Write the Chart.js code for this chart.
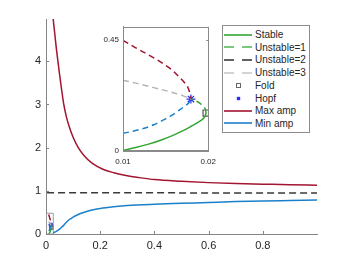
<!DOCTYPE html>
<html>
<head>
<meta charset="utf-8">
<script src="https://cdn.jsdelivr.net/npm/chart.js@4.4.0/dist/chart.umd.min.js"></script>
<style>
  html, body { margin: 0; padding: 0; background: #fff; }
  #wrap { position: relative; width: 350px; height: 263px; font-family: "Liberation Sans", Arial, sans-serif; }
  #main { position: absolute; left: 0; top: 0; }
  #inset { position: absolute; left: 90px; top: 18px; }
  #legend { position: absolute; left: 222px; top: 25px; width: 88px; height: 108px; box-sizing: border-box;
            border: 1px solid #8c8c8c; background: #fff; padding-top: 2px; }
  .row { display: flex; align-items: center; height: 13px; margin-bottom: -0.3px; font-size: 10px; color: #262626; white-space: nowrap; }
  .smp { width: 28px; height: 6px; margin-left: 1px; margin-right: 3px; display: flex; align-items: center; justify-content: center; }
  .ln { width: 28px; height: 2px; opacity: 0.8; }
</style>
</head>
<body>
<div id="wrap">
  <canvas id="main" width="350" height="263"></canvas>
  <canvas id="inset" width="132" height="152"></canvas>
  <div id="legend"></div>
</div>
<script>
// main view: amplitude envelopes against the parameter
const maxAmpX = [0.025, 0.027, 0.031, 0.036, 0.04, 0.044, 0.05, 0.056, 0.0656, 0.075, 0.085, 0.1, 0.119, 0.14, 0.17, 0.21, 0.25, 0.3, 0.35, 0.4, 0.5, 0.6, 0.7, 0.8, 0.9, 1.0]
const maxAmpY = [5.1, 4.95, 4.72, 4.42, 4.2, 4.0, 3.7, 3.42, 3.0, 2.72, 2.5, 2.24, 2.0, 1.82, 1.64, 1.5, 1.42, 1.35, 1.3, 1.26, 1.22, 1.19, 1.17, 1.155, 1.14, 1.13]
const minAmpX = [0.026, 0.035, 0.045, 0.055, 0.065, 0.075, 0.085, 0.1, 0.115, 0.13, 0.15, 0.175, 0.2, 0.25, 0.3, 0.4, 0.5, 0.6, 0.7, 0.8, 0.9, 1.0]
const minAmpY = [0.03, 0.05, 0.09, 0.14, 0.2, 0.27, 0.33, 0.39, 0.44, 0.48, 0.52, 0.56, 0.59, 0.63, 0.66, 0.69, 0.71, 0.73, 0.75, 0.765, 0.775, 0.785]
const unst2X = [0.004, 1.0]
const unst2Y = [0.955, 0.95]

// zoomed region near the fold / hopf points
const stableX = [0.01, 0.0115, 0.013, 0.0145, 0.016, 0.017, 0.018, 0.0188, 0.0194, 0.01965, 0.01975]
const stableY = [0.0, 0.012, 0.026, 0.043, 0.064, 0.08, 0.099, 0.115, 0.13, 0.142, 0.153]
const unst1X = [0.01975, 0.0197, 0.0195, 0.0192, 0.0188, 0.01797]
const unst1Y = [0.153, 0.165, 0.177, 0.188, 0.198, 0.21]
const redDashX = [0.01, 0.0112, 0.0124, 0.0136, 0.0147, 0.0157, 0.0166, 0.0172, 0.01758, 0.0178, 0.01797]
const redDashY = [0.45, 0.425, 0.402, 0.378, 0.355, 0.33, 0.3, 0.278, 0.26, 0.24, 0.21]
const unst3X = [0.01, 0.0115, 0.013, 0.0145, 0.016, 0.017, 0.01797]
const unst3Y = [0.287, 0.275, 0.262, 0.249, 0.235, 0.224, 0.21]
const blueDashX = [0.01, 0.0112, 0.0124, 0.0136, 0.0147, 0.0157, 0.0166, 0.0172, 0.0178, 0.01797]
const blueDashY = [0.07, 0.079, 0.09, 0.105, 0.124, 0.143, 0.165, 0.18, 0.198, 0.21]
const hopfX = [0.01797]
const hopfY = [0.21]
const foldX = [0.01975]
const foldY = [0.153]
const boxX = [0.002, 0.027, 0.027, 0.002, 0.002]
const boxY = [0, 0, 0.48, 0.48, 0]

const mainXTicks = [0, 0.2, 0.4, 0.6, 0.8]
const mainYTicks = [0, 1, 2, 3, 4]
const insetXTicks = [0.01, 0.02]
const insetYTicks = [0, 0.45]

const GREEN = '#33a533'
const RED = '#a2142f'
const BLUE = '#1a80cc'
const DARK = '#3a3a3a'
const LIGHT = '#b4b4b4'
const HOPF = '#2b2bff'

function pts(xs, ys) {
    return xs.map((x, i) => ({x: x, y: ys[i]}))
}

function line(xs, ys, color, dash, width) {
    return {
        data: pts(xs, ys),
        borderColor: color,
        borderWidth: width || 1.5,
        borderDash: dash || [],
        pointRadius: 0,
        fill: false,
        cubicInterpolationMode: 'monotone'
    }
}

function marker(xs, ys, style, color, r) {
    return {
        data: pts(xs, ys),
        showLine: false,
        pointStyle: style,
        pointRadius: r,
        pointBorderColor: color,
        pointBackgroundColor: 'rgba(0,0,0,0)',
        pointBorderWidth: 1.2
    }
}

// MATLAB style ticks pointing into the plot
const inTicks = {
    id: 'inTicks',
    beforeDraw(chart, args, opts) {
        if (!opts.fill) return
        const a = chart.chartArea
        chart.ctx.save()
        chart.ctx.fillStyle = '#fff'
        chart.ctx.fillRect(a.left, a.top, a.right - a.left, a.bottom - a.top)
        chart.ctx.restore()
    },
    afterDraw(chart, args, opts) {
        const ctx = chart.ctx
        const a = chart.chartArea
        const sx = chart.scales.x, sy = chart.scales.y
        ctx.save()
        ctx.strokeStyle = opts.color
        ctx.lineWidth = 1
        ctx.beginPath()
        sx.ticks.forEach(t => {
            const px = Math.round(sx.getPixelForValue(t.value)) + 0.5
            ctx.moveTo(px, a.bottom); ctx.lineTo(px, a.bottom - opts.len)
            if (opts.box) { ctx.moveTo(px, a.top); ctx.lineTo(px, a.top + opts.len) }
        })
        sy.ticks.forEach(t => {
            const py = Math.round(sy.getPixelForValue(t.value)) + 0.5
            ctx.moveTo(a.left, py); ctx.lineTo(a.left + opts.len, py)
            if (opts.box) { ctx.moveTo(a.right, py); ctx.lineTo(a.right - opts.len, py) }
        })
        ctx.stroke()
        if (opts.box) {
            ctx.strokeRect(Math.round(a.left) + 0.5, Math.round(a.top) + 0.5,
                Math.round(a.right - a.left), Math.round(a.bottom - a.top))
        }
        ctx.restore()
    }
}

function axis(min, max, ticks, size, fit, pad, color) {
    return {
        type: 'linear',
        min: min,
        max: max,
        grid: {display: false, drawTicks: false},
        border: {display: true, color: color},
        afterBuildTicks: s => { s.ticks = ticks.map(v => ({value: v})) },
        afterFit: fit,
        ticks: {
            font: {size: size, family: '"Liberation Sans", Arial, sans-serif'},
            color: '#262626',
            padding: pad,
            maxRotation: 0,
            autoSkip: false,
            callback: v => String(v)
        }
    }
}

const zoomSets = [
    line(unst3X, unst3Y, LIGHT, [6, 4]),
    line(redDashX, redDashY, RED, [6, 4]),
    line(blueDashX, blueDashY, BLUE, [6, 4]),
    line(stableX, stableY, GREEN),
    line(unst1X, unst1Y, GREEN, [6, 4]),
    marker(foldX, foldY, 'rect', '#555', 4.3),
    marker(hopfX, hopfY, 'star', HOPF, 4.5)
]

new Chart(document.getElementById('main'), {
    type: 'line',
    data: {
        datasets: [
            line(unst2X, unst2Y, DARK, [7, 4]),
            line(maxAmpX, maxAmpY, RED),
            line(minAmpX, minAmpY, BLUE),
            line(boxX, boxY, '#9a9a9a', [], 1)
        ].concat(zoomSets.map(d => Object.assign({}, d, {pointRadius: d.pointRadius ? 2.5 : 0})))
    },
    options: {
        responsive: false,
        animation: false,
        devicePixelRatio: 1,
        layout: {padding: {top: 19, right: 33, left: 0, bottom: 0}},
        plugins: {legend: {display: false}, tooltip: {enabled: false}, inTicks: {color: '#858585', len: 3}},
        scales: {
            x: axis(0, 1, mainXTicks, 11, s => { s.height = 29 }, 5, '#858585'),
            y: axis(0, 4.98, mainYTicks, 11, s => { s.width = 46 }, 5, '#858585')
        }
    },
    plugins: [inTicks]
})

new Chart(document.getElementById('inset'), {
    type: 'line',
    data: {datasets: zoomSets},
    options: {
        responsive: false,
        animation: false,
        devicePixelRatio: 1,
        layout: {padding: {top: 8, right: 13, left: 0, bottom: 0}},
        plugins: {legend: {display: false}, tooltip: {enabled: false}, inTicks: {color: '#8a8a8a', len: 2, box: true, fill: true}},
        scales: {
            x: axis(0.01, 0.02, insetXTicks, 8, s => { s.height = 19.5 }, 6, '#8a8a8a'),
            y: axis(0, 0.505, insetYTicks, 8, s => { s.width = 33 }, 4, '#8a8a8a')
        }
    },
    plugins: [inTicks]
})

// legend built as html so the labels stay real text
const legendItems = [
    {label: 'Stable', color: GREEN},
    {label: 'Unstable=1', color: '#5cb85c', dash: true},
    {label: 'Unstable=2', color: DARK, dash: true},
    {label: 'Unstable=3', color: '#c8c8c8', dash: true},
    {label: 'Fold', mark: 'fold'},
    {label: 'Hopf', mark: 'hopf'},
    {label: 'Max amp', color: RED},
    {label: 'Min amp', color: BLUE}
]
const legendEl = document.getElementById('legend')
legendItems.forEach(it => {
    const row = document.createElement('div')
    row.className = 'row'
    const smp = document.createElement('div')
    smp.className = 'smp'
    const s = document.createElement('div')
    if (it.mark === 'fold') {
        s.style.cssText = 'width:3px;height:3px;border:1px solid #666;'
    } else if (it.mark === 'hopf') {
        s.style.cssText = 'width:3px;height:3px;background:' + HOPF + ';box-shadow:0 0 1.5px ' + HOPF + ';'
    } else if (it.dash) {
        s.className = 'ln'
        s.style.background = 'repeating-linear-gradient(90deg,' + it.color + ' 0 10px, transparent 10px 18px)'
    } else {
        s.className = 'ln'
        s.style.background = it.color
    }
    smp.appendChild(s)
    const txt = document.createElement('span')
    txt.textContent = it.label
    row.appendChild(smp)
    row.appendChild(txt)
    legendEl.appendChild(row)
})
</script>
</body>
</html>
